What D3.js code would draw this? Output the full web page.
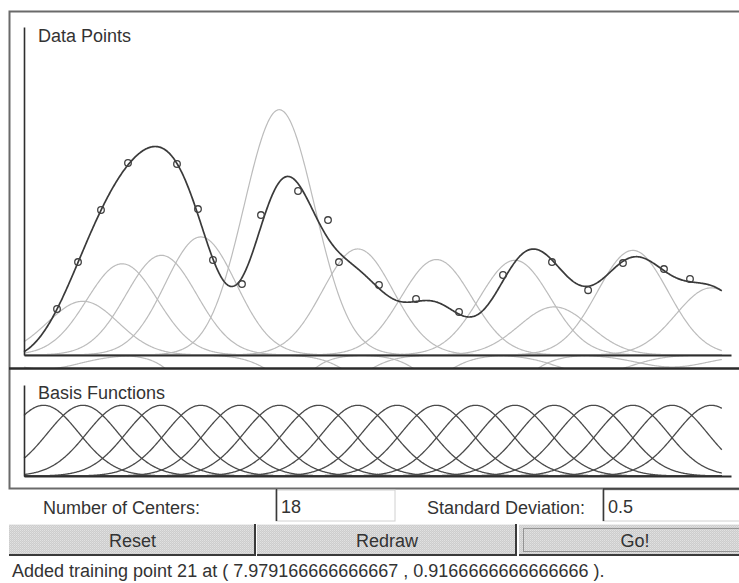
<!DOCTYPE html>
<html><head><meta charset="utf-8">
<script src="https://cdn.jsdelivr.net/npm/d3@7"></script>
<style>
html,body{margin:0;padding:0;background:#fff;overflow:hidden;}
svg{display:block;font-family:"Liberation Sans",Arial,sans-serif;}
</style></head><body>
<svg id="c" width="739" height="583"></svg>
<script>
// ---- data ----
const centers = [0.278, 0.833, 1.389, 1.944, 2.500, 3.056, 3.611, 4.167, 4.722,
                 5.278, 5.833, 6.389, 6.944, 7.500, 8.056, 8.611, 9.167, 9.722];
const weights = [-0.20, 0.76, 1.29, 1.41, 1.67, -1.80, 3.47, -0.60, 1.50,
                 -0.66, 1.35, -0.90, 1.34, 0.68, -0.27, 1.48, -0.17, 0.95];
const sigma = 0.5;
const pointX = [0.467, 0.764, 1.089, 1.471, 2.164, 2.461, 2.673, 3.083, 3.352, 3.876, 4.300,
                4.455, 5.021, 5.545, 6.153, 6.775, 7.468, 7.979, 8.472, 9.052, 9.420];
const pointY = [0.651, 1.315, 2.051, 2.716, 2.702, 2.065, 1.344, 1.004, 1.980, 2.320, 1.909,
                1.315, 0.990, 0.792, 0.608, 1.132, 1.315, 0.917, 1.301, 1.216, 1.075];
const panelTitles = ["Data Points", "Basis Functions"];
const fieldLabels = ["Number of Centers:", "Standard Deviation:"];
const fieldValues = ["18", "0.5"];
const buttonLabels = ["Reset", "Redraw", "Go!"];
const statusText = "Added training point 21 at ( 7.979166666666667 , 0.9166666666666666 ).";

(function(){
const svg = d3.select("#c");
svg.append("rect").attr("width",739).attr("height",583).attr("fill","#fff");
const defs = svg.append("defs");
const pat = defs.append("pattern").attr("id","dith").attr("width",2).attr("height",2).attr("patternUnits","userSpaceOnUse");
pat.append("rect").attr("width",2).attr("height",2).attr("fill","#cdcdcd");
pat.append("rect").attr("width",1).attr("height",1).attr("fill","#e2e2e2");
pat.append("rect").attr("x",1).attr("y",1).attr("width",1).attr("height",1).attr("fill","#d8d8d8");
defs.append("clipPath").attr("id","topClip").append("rect").attr("x",11).attr("y",13).attr("width",728).attr("height",355);
defs.append("clipPath").attr("id","botClip").append("rect").attr("x",11).attr("y",371).attr("width",728).attr("height",116);

const x = d3.scaleLinear().domain([0,10]).range([24,731]);
const yTop = d3.scaleLinear().domain([0,4.64]).range([355,27]);
const yBot = d3.scaleLinear().domain([0,1.287]).range([476,385]);
const xs = d3.range(0, 9.8751, 0.01);
const g = (t,c) => Math.exp(-((t-c)*(t-c))/(2*sigma*sigma));

// outer frame
svg.append("rect").attr("x",9.5).attr("y",11.5).attr("width",750).attr("height",477)
  .attr("fill","none").attr("stroke","#6a6a6a").attr("stroke-width",2);

// top panel: weighted basis functions, fit and data points
const topG = svg.append("g").attr("clip-path","url(#topClip)");
const lineTop = d3.line().x(d=>x(d[0])).y(d=>yTop(d[1]));
centers.forEach((c,j)=>{
  topG.append("path").attr("d", lineTop(xs.map(t=>[t, weights[j]*g(t,c)])))
    .attr("fill","none").attr("stroke","#bcbcbc").attr("stroke-width",1.2);
});
svg.append("g").attr("transform","translate(0,355)")
  .call(d3.axisBottom(x).tickValues([]).tickSizeOuter(0))
  .call(s=>s.select(".domain").attr("stroke","#2e2e2e").attr("stroke-width",2));
svg.append("g").attr("transform","translate(24,0)")
  .call(d3.axisLeft(yTop).tickValues([]).tickSizeOuter(0))
  .call(s=>s.select(".domain").attr("stroke","#2e2e2e").attr("stroke-width",1.6));
topG.append("path").attr("d", lineTop(xs.map(t=>[t, d3.sum(centers,(c,j)=>weights[j]*g(t,c))])))
  .attr("fill","none").attr("stroke","#3a3a3a").attr("stroke-width",1.7);
svg.append("g").selectAll("circle").data(pointX).join("circle")
  .attr("cx",(d)=>x(d)).attr("cy",(d,i)=>yTop(pointY[i])).attr("r",3.3)
  .attr("fill","none").attr("stroke","#404040").attr("stroke-width",1.3);
svg.append("text").attr("x",38).attr("y",41.5).attr("font-size",18).attr("fill","#333").text(panelTitles[0]);

// separator
svg.append("line").attr("x1",9).attr("x2",739).attr("y1",368.5).attr("y2",368.5).attr("stroke","#2a2a2a").attr("stroke-width",2.5);

// bottom panel: basis functions
const bot = svg.append("g").attr("clip-path","url(#botClip)");
const lineBot = d3.line().x(d=>x(d[0])).y(d=>yBot(d[1]));
centers.forEach(c=>{
  bot.append("path").attr("d", lineBot(xs.map(t=>[t, g(t,c)])))
    .attr("fill","none").attr("stroke","#4a4a4a").attr("stroke-width",1.3);
});
svg.append("g").attr("transform","translate(0,476)")
  .call(d3.axisBottom(x).tickValues([]).tickSizeOuter(0))
  .call(s=>s.select(".domain").attr("stroke","#2e2e2e").attr("stroke-width",2));
svg.append("g").attr("transform","translate(24,0)")
  .call(d3.axisLeft(yBot).tickValues([]).tickSizeOuter(0))
  .call(s=>s.select(".domain").attr("stroke","#2e2e2e").attr("stroke-width",1.6));
svg.append("text").attr("x",38).attr("y",398.5).attr("font-size",18).attr("fill","#333").text(panelTitles[1]);

// controls
svg.append("text").attr("x",43).attr("y",513.5).attr("font-size",18).attr("fill","#333").text(fieldLabels[0]);
svg.append("text").attr("x",427).attr("y",513.5).attr("font-size",18).attr("fill","#333").text(fieldLabels[1]);
[[276,395,fieldValues[0]],[603,760,fieldValues[1]]].forEach(([x0,x1,v])=>{
  svg.append("rect").attr("x",x0).attr("y",490).attr("width",x1-x0).attr("height",31).attr("fill","#fff")
    .attr("stroke","#d0d0d0").attr("stroke-width",1);
  svg.append("line").attr("x1",x0+0.5).attr("x2",x0+0.5).attr("y1",489).attr("y2",521).attr("stroke","#3a3a3a").attr("stroke-width",1.6);
  svg.append("text").attr("x",x0+5).attr("y",513).attr("font-size",18).attr("fill","#333").text(v);
});
svg.append("line").attr("x1",603).attr("x2",739).attr("y1",489).attr("y2",489).attr("stroke","#3a3a3a").attr("stroke-width",1.6);

const btns = [[9,256,buttonLabels[0]],[257,517,buttonLabels[1]],[519,752,buttonLabels[2]]];
btns.forEach(([x0,x1,lab],i)=>{
  svg.append("rect").attr("x",x0).attr("y",524).attr("width",x1-x0).attr("height",32).attr("fill","url(#dith)");
  svg.append("line").attr("x1",x0).attr("x2",x1).attr("y1",524.5).attr("y2",524.5).attr("stroke","#eeeeee");
  svg.append("line").attr("x1",x0).attr("x2",x1).attr("y1",555).attr("y2",555).attr("stroke","#3a3a3a").attr("stroke-width",2);
  svg.append("line").attr("x1",x1-1).attr("x2",x1-1).attr("y1",524).attr("y2",556).attr("stroke","#3a3a3a").attr("stroke-width",2);
  if(i===2){
    svg.append("rect").attr("x",x0+4.5).attr("y",528.5).attr("width",x1-x0-9).attr("height",23)
      .attr("fill","none").attr("stroke","#555").attr("stroke-dasharray","1,1");
  }
  svg.append("text").attr("x", i===2?635:(x0+x1)/2).attr("y",546.5).attr("text-anchor","middle")
    .attr("font-size",18).attr("fill","#333").text(lab);
});
svg.append("text").attr("x",12).attr("y",577).attr("font-size",18).attr("fill","#333").text(statusText);
})();
</script>
</body></html>
